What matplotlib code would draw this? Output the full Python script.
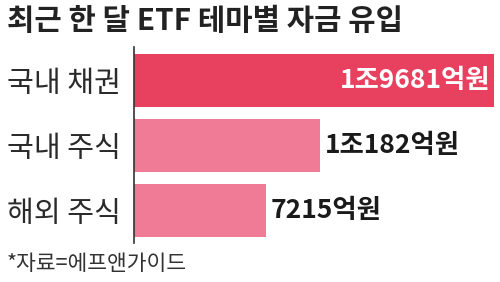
import matplotlib
matplotlib.use("Agg")
import matplotlib.pyplot as plt
from matplotlib.transforms import blended_transform_factory

plt.rcParams['font.family'] = ['Noto Sans CJK KR', 'DejaVu Sans']

title = "최근 한 달 ETF 테마별 자금 유입"
categories = ["국내 채권", "국내 주식", "해외 주식"]
values = [19681, 10182, 7215]
value_labels = ["1조9681억원", "1조182억원", "7215억원"]
source = "*자료=에프앤가이드"
colors = ["#E8415F", "#F07B97", "#F07B97"]

W, H = 500, 282
fig = plt.figure(figsize=(W / 100, H / 100), dpi=100)
fig.patch.set_facecolor("white")

ax = fig.add_axes([134 / W, 1 - 243 / H, (494 - 134) / W, (243 - 47) / H])
ax.set_xlim(0, values[0])
ypos = [0, 1, 2]
ax.set_ylim(2 + (243 - 210) / 65, -(80.5 - 47) / 65)
ax.barh(ypos, values, height=53 / 65, color=colors, edgecolor="none")

for s in ["top", "right", "bottom"]:
    ax.spines[s].set_visible(False)
ax.spines["left"].set_color("#333333")
ax.spines["left"].set_linewidth(1.2)
ax.set_xticks([])
ax.set_yticks(ypos)
ax.set_yticklabels(categories, fontsize=21, color="#2a2a2a")
ax.tick_params(axis="y", length=0)
for lbl in ax.get_yticklabels():
    lbl.set_horizontalalignment("left")
    lbl.set_transform(blended_transform_factory(fig.transFigure, ax.transData))
    lbl.set_position((7 / W, lbl.get_position()[1]))

for i, (v, t) in enumerate(zip(values, value_labels)):
    if i == 0:
        ax.text(v - values[0] * 0.01, i, t, ha="right", va="center", fontsize=19,
                fontweight="bold", color="white")
    else:
        ax.text(v + values[0] * 0.012, i, t, ha="left", va="center", fontsize=19,
                fontweight="bold", color="#1a1a1a")

fig.text(7 / W, 1 - 21 / H, title, fontsize=21.4, fontweight="black", color="#222222",
         ha="left", va="center")
fig.text(7 / W, 1 - 264 / H, source, fontsize=15.5, color="#333333", ha="left", va="center")

fig.savefig("out.png", dpi=100, facecolor="white")
